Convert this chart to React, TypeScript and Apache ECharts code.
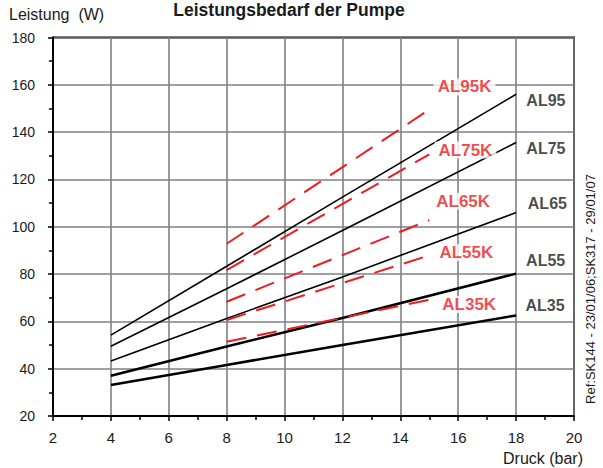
import React, { useEffect, useRef } from 'react';
import * as echarts from 'echarts';

// Pressure (bar) sample points for the black (AL) curves
const pressureBlack = [4, 8, 12, 18];
const al95 = [54.2, 83.3, 112.5, 156.0];
const al75 = [49.5, 73.8, 98.4, 135.6];
const al65 = [43.2, 61.2, 78.8, 106.0];
const al55 = [37.0, 49.4, 61.4, 80.2];
const al35 = [33.1, 41.6, 50.0, 62.5];

// Pressure sample points for the red dashed (ALxxK) curves
const pressureRed = [8, 15];
const al95k = [92.8, 149.5];
const al75k = [81.7, 130.6];
const al65k = [68.3, 102.8];
const al55k = [60.6, 87.9];
const al35k = [51.4, 69.1];

// Curve labels (name, pressure, power)
const blackNames = ['AL95', 'AL75', 'AL65', 'AL55', 'AL35'];
const blackLabelX = [19.03, 19.03, 19.08, 19.02, 19.0];
const blackLabelY = [153.4, 133.1, 109.9, 85.9, 66.6];
const redNames = ['AL95K', 'AL75K', 'AL65K', 'AL55K', 'AL35K'];
const redLabelX = [16.22, 16.25, 16.17, 16.28, 16.38];
const redLabelY = [159.1, 132.4, 110.8, 89.0, 67.1];

const TITLE = 'Leistungsbedarf der Pumpe';
const Y_NAME = 'Leistung  (W)';
const X_NAME = 'Druck (bar)';
const REF = 'Ref:SK144 - 23/01/06;SK317 - 29/01/07';

const FONT = '"Liberation Sans", Arial, Helvetica, sans-serif';
const RED = '#ec1c24';

export default function App() {
  const ref = useRef<HTMLDivElement>(null);
  useEffect(() => {
    if (!ref.current) return;
    const chart = echarts.init(ref.current, undefined, { renderer: 'svg' });

    const black = (name: string, vals: number[], width: number) => ({
      name,
      type: 'line',
      data: pressureBlack.map((p, i) => [p, vals[i]]),
      symbol: 'none',
      lineStyle: { color: '#000', width },
      z: 3,
      silent: true,
    });
    const red = (name: string, vals: number[]) => ({
      name,
      type: 'line',
      data: pressureRed.map((p, i) => [p, vals[i]]),
      symbol: 'none',
      lineStyle: { color: RED, width: 2, type: [20, 11] },
      z: 4,
      silent: true,
    });

    const axisCommon = {
      type: 'value',
      axisLine: { show: true, onZero: false, lineStyle: { color: '#000', width: 2 } },
      axisTick: { show: true, length: 5, lineStyle: { color: '#000', width: 1.5 } },
      minorTick: { show: true, splitNumber: 2, length: 4, lineStyle: { color: '#000', width: 1.5 } },
      splitLine: { show: true, lineStyle: { color: '#808080', width: 1.6 } },
    };

    chart.setOption({
      animation: false,
      grid: { left: 53, right: 29, top: 37.5, bottom: 52, show: true, borderColor: '#000', borderWidth: 2 },
      xAxis: {
        ...axisCommon,
        min: 2,
        max: 20,
        interval: 2,
        axisLabel: { margin: 14, fontSize: 15, color: '#1a1a1a', fontFamily: FONT },
      },
      yAxis: {
        ...axisCommon,
        min: 20,
        max: 180,
        interval: 20,
        axisLabel: { margin: 18, fontSize: 14, color: '#1a1a1a', fontFamily: FONT },
      },
      series: [
        black('AL95', al95, 1.6),
        black('AL75', al75, 1.6),
        black('AL65', al65, 1.6),
        black('AL55', al55, 2.5),
        black('AL35', al35, 2.5),
        red('AL95K', al95k),
        red('AL75K', al75k),
        red('AL65K', al65k),
        red('AL55K', al55k),
        red('AL35K', al35k),
        {
          name: 'blackLabels',
          type: 'scatter',
          symbol: 'circle',
          symbolSize: 1,
          itemStyle: { color: 'rgba(0,0,0,0)' },
          z: 10,
          silent: true,
          data: blackNames.map((n, i) => ({ name: n, value: [blackLabelX[i], blackLabelY[i]] })),
          label: {
            show: true,
            position: 'inside',
            formatter: '{b}',
            color: '#1a1a1a',
            fontSize: 16,
            fontWeight: 'bold',
            fontFamily: FONT,
            backgroundColor: '#fff',
            padding: [0, 2],
          },
        },
        {
          name: 'redLabels',
          type: 'scatter',
          symbol: 'circle',
          symbolSize: 1,
          itemStyle: { color: 'rgba(0,0,0,0)' },
          z: 10,
          silent: true,
          data: redNames.map((n, i) => ({ name: n, value: [redLabelX[i], redLabelY[i]] })),
          label: {
            show: true,
            position: 'inside',
            formatter: '{b}',
            color: RED,
            fontSize: 17,
            fontWeight: 'bold',
            fontFamily: FONT,
            backgroundColor: '#fff',
            padding: [0, 4],
          },
        },
      ],
      graphic: [
        {
          type: 'text',
          x: 289,
          y: 10,
          style: {
            text: TITLE,
            fill: '#1a1a1a',
            font: `bold 17.5px ${FONT}`,
            textAlign: 'center',
            textVerticalAlign: 'middle',
          },
        },
        {
          type: 'text',
          x: 9,
          y: 14,
          style: {
            text: Y_NAME,
            fill: '#1a1a1a',
            font: `16px ${FONT}`,
            textAlign: 'left',
            textVerticalAlign: 'middle',
          },
        },
        {
          type: 'text',
          x: 543,
          y: 458,
          style: {
            text: X_NAME,
            fill: '#1a1a1a',
            font: `16px ${FONT}`,
            textAlign: 'center',
            textVerticalAlign: 'middle',
          },
        },
        {
          type: 'text',
          x: 590,
          y: 289,
          rotation: Math.PI / 2,
          style: {
            text: REF,
            fill: '#1a1a1a',
            font: `13px ${FONT}`,
            textAlign: 'center',
            textVerticalAlign: 'middle',
          },
        },
      ],
    });
    return () => chart.dispose();
  }, []);
  return <div ref={ref} style={{ position: 'absolute', left: 0, top: 0, width: 603, height: 468 }} />;
}
